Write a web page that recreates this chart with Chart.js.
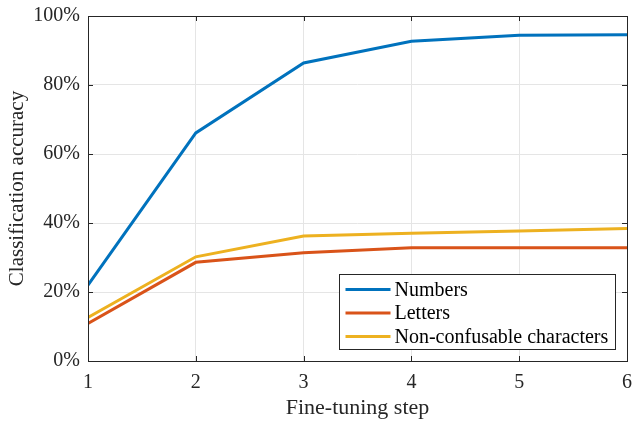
<!DOCTYPE html>
<html>
<head>
<meta charset="utf-8">
<script src="https://cdn.jsdelivr.net/npm/chart.js@4.4.0/dist/chart.umd.min.js"></script>
<style>
  html, body { margin: 0; padding: 0; background: #fff; }
  #wrap { width: 632px; height: 421px; }
</style>
</head>
<body>
<div id="wrap"><canvas id="accChart"></canvas></div>
<script>
// Fine-tuning steps and accuracy (%) per character set
const steps = [1, 2, 3, 4, 5, 6];
const numbersAcc = [22.0, 66.1, 86.4, 92.7, 94.4, 94.6];
const lettersAcc = [10.9, 28.6, 31.4, 32.8, 32.8, 32.8];
const nonConfAcc = [12.6, 30.2, 36.2, 37.0, 37.7, 38.4];
const seriesNames = ['Numbers', 'Letters', 'Non-confusable characters'];
const seriesColors = ['#0072BD', '#D95319', '#EDB120'];
const yTicks = [0, 20, 40, 60, 80, 100];

const serif = "'Liberation Serif', 'Times New Roman', serif";

function toPoints(vals) {
    return steps.map((s, i) => ({ x: s, y: vals[i] }));
}

// inward ticks on all four sides + full box, MATLAB style
const boxPlugin = {
    id: 'boxTicks',
    afterDatasetsDraw(chart) {
        const { ctx, chartArea: a, scales } = chart;
        ctx.save();
        ctx.strokeStyle = '#262626';
        ctx.lineWidth = 1;
        ctx.beginPath();
        steps.forEach(s => {
            const x = Math.round(scales.x.getPixelForValue(s)) + 0.5;
            ctx.moveTo(x, a.bottom); ctx.lineTo(x, a.bottom - 5);
            ctx.moveTo(x, a.top); ctx.lineTo(x, a.top + 5);
        });
        yTicks.forEach(v => {
            const y = Math.round(scales.y.getPixelForValue(v)) + 0.5;
            ctx.moveTo(a.left, y); ctx.lineTo(a.left + 5, y);
            ctx.moveTo(a.right, y); ctx.lineTo(a.right - 5, y);
        });
        ctx.stroke();
        ctx.strokeRect(Math.round(a.left) + 0.5, Math.round(a.top) + 0.5,
            Math.round(a.right - a.left), Math.round(a.bottom - a.top));
        ctx.restore();
    }
};

// legend box inside plot, lower right
const legendPlugin = {
    id: 'innerLegend',
    afterDraw(chart) {
        const { ctx, chartArea: a } = chart;
        const sets = chart.data.datasets;
        ctx.save();
        ctx.font = '20px ' + serif;
        const boxW = 276, boxH = 75;
        const bx = Math.round(a.right - 12 - boxW) + 0.5;
        const by = Math.round(a.bottom - 12 - boxH) + 0.5;
        ctx.fillStyle = '#fff';
        ctx.fillRect(bx, by, boxW, boxH);
        ctx.strokeStyle = '#262626';
        ctx.lineWidth = 1;
        ctx.strokeRect(bx, by, boxW, boxH);
        sets.forEach((ds, i) => {
            const y = by + 15 + i * 23.5;
            ctx.strokeStyle = ds.borderColor;
            ctx.lineWidth = 3;
            ctx.beginPath();
            ctx.moveTo(bx + 6, y);
            ctx.lineTo(bx + 51, y);
            ctx.stroke();
            ctx.fillStyle = '#000';
            ctx.textBaseline = 'middle';
            ctx.fillText(ds.label, bx + 55, y + 1);
        });
        ctx.restore();
    }
};

const allSeries = [numbersAcc, lettersAcc, nonConfAcc];

new Chart(document.getElementById('accChart'), {
    type: 'line',
    data: {
        datasets: allSeries.map((vals, i) => ({
            label: seriesNames[i],
            data: toPoints(vals),
            borderColor: seriesColors[i],
            backgroundColor: seriesColors[i],
            borderWidth: 3,
            pointRadius: 0,
            tension: 0
        }))
    },
    options: {
        responsive: true,
        maintainAspectRatio: false,
        animation: false,
        layout: { padding: { top: 16, right: 5, left: 0, bottom: 0 } },
        plugins: {
            legend: { display: false },
            tooltip: { enabled: false }
        },
        scales: {
            x: {
                type: 'linear',
                min: 1,
                max: 6,
                afterFit(scale) {
                    scale.height = 60;
                    scale.paddingLeft = 0;
                    scale.paddingRight = 0;
                },
                afterBuildTicks(scale) { scale.ticks = steps.map(v => ({ value: v })); },
                grid: { color: '#e5e5e5', drawTicks: false },
                border: { display: false },
                ticks: {
                    color: '#262626',
                    font: { family: serif, size: 20 },
                    padding: 10,
                    maxRotation: 0
                },
                title: {
                    display: true,
                    text: 'Fine-tuning step',
                    color: '#262626',
                    font: { family: serif, size: 22 },
                    padding: { top: 0, bottom: 0 }
                }
            },
            y: {
                min: 0,
                max: 100,
                afterFit(scale) {
                    scale.width = 88;
                    scale.paddingTop = 0;
                    scale.paddingBottom = 0;
                },
                afterBuildTicks(scale) { scale.ticks = yTicks.map(v => ({ value: v })); },
                grid: { color: '#e5e5e5', drawTicks: false },
                border: { display: false },
                ticks: {
                    color: '#262626',
                    font: { family: serif, size: 20 },
                    padding: 8,
                    callback: v => v + '%'
                },
                title: {
                    display: true,
                    text: 'Classification accuracy',
                    color: '#262626',
                    font: { family: serif, size: 21 },
                    padding: { top: 5, bottom: 0 }
                }
            }
        }
    },
    plugins: [boxPlugin, legendPlugin]
});
</script>
</body>
</html>
